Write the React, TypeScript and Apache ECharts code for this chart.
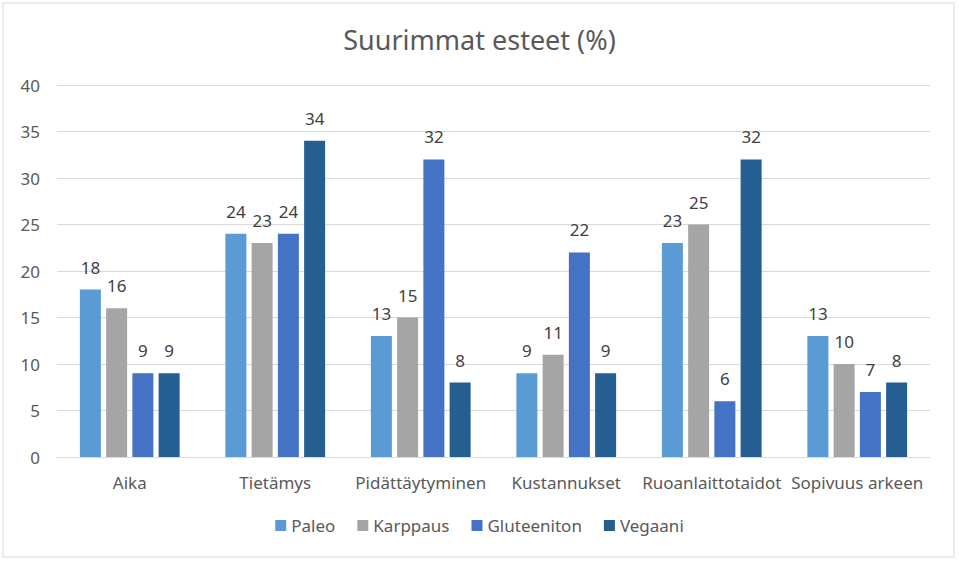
import React, { useEffect, useRef } from "react";
import * as echarts from "echarts";

const categories = ["Aika", "Tietämys", "Pidättäytyminen", "Kustannukset", "Ruoanlaittotaidot", "Sopivuus arkeen"];
const seriesNames = ["Paleo", "Karppaus", "Gluteeniton", "Vegaani"];
const paleo = [18, 24, 13, 9, 23, 13];
const karppaus = [16, 23, 15, 11, 25, 10];
const gluteeniton = [9, 24, 32, 22, 6, 7];
const vegaani = [9, 34, 8, 9, 32, 8];
const colors = ["#5B9BD5", "#A5A5A5", "#4472C4", "#255E91"];

const FONT = "'Noto Sans', 'Open Sans', sans-serif";

export default function App() {
  const ref = useRef<HTMLDivElement>(null);
  useEffect(() => {
    if (!ref.current) return;
    const chart = echarts.init(ref.current, undefined, { renderer: "svg" });
    const values = [paleo, karppaus, gluteeniton, vegaani];
    chart.setOption({
      animation: false,
      textStyle: { fontFamily: FONT },
      title: {
        text: "Suurimmat esteet (%)",
        left: "center",
        top: 21,
        textStyle: { fontFamily: FONT, fontSize: 27, fontWeight: "normal", color: "#595959" },
      },
      graphic: [
        {
          type: "rect",
          shape: { x: 3, y: 3, width: 951, height: 554 },
          style: { fill: "none", stroke: "#D9D9D9", lineWidth: 1 },
          silent: true,
        },
      ],
      legend: {
        data: seriesNames,
        bottom: 23,
        left: "center",
        itemWidth: 11,
        itemHeight: 11,
        itemGap: 22,
        icon: "rect",
        textStyle: { fontFamily: FONT, fontSize: 17, color: "#595959" },
      },
      grid: { left: 57, right: 29, top: 85, bottom: 105, containLabel: false },
      xAxis: {
        type: "category",
        data: categories,
        axisLine: { lineStyle: { color: "#D9D9D9" } },
        axisTick: { show: false },
        axisLabel: { fontFamily: FONT, fontSize: 17, color: "#595959", margin: 17, interval: 0 },
      },
      yAxis: {
        type: "value",
        min: 0,
        max: 40,
        interval: 5,
        axisLine: { show: false },
        axisTick: { show: false },
        splitLine: { lineStyle: { color: "#D9D9D9" } },
        axisLabel: { fontFamily: FONT, fontSize: 17, color: "#595959", margin: 17 },
      },
      series: seriesNames.map((name, i) => ({
        name,
        type: "bar",
        data: values[i],
        barWidth: 21,
        barGap: "25%",
        barCategoryGap: "32%",
        itemStyle: { color: colors[i] },
        label: {
          show: true,
          position: "top",
          distance: 14,
          fontFamily: FONT,
          fontSize: 17,
          color: "#404040",
        },
      })),
    });
    return () => chart.dispose();
  }, []);
  return (
    <div
      ref={ref}
      style={{ position: "fixed", left: 0, top: 0, width: 959, height: 562, background: "#fff" }}
    />
  );
}
